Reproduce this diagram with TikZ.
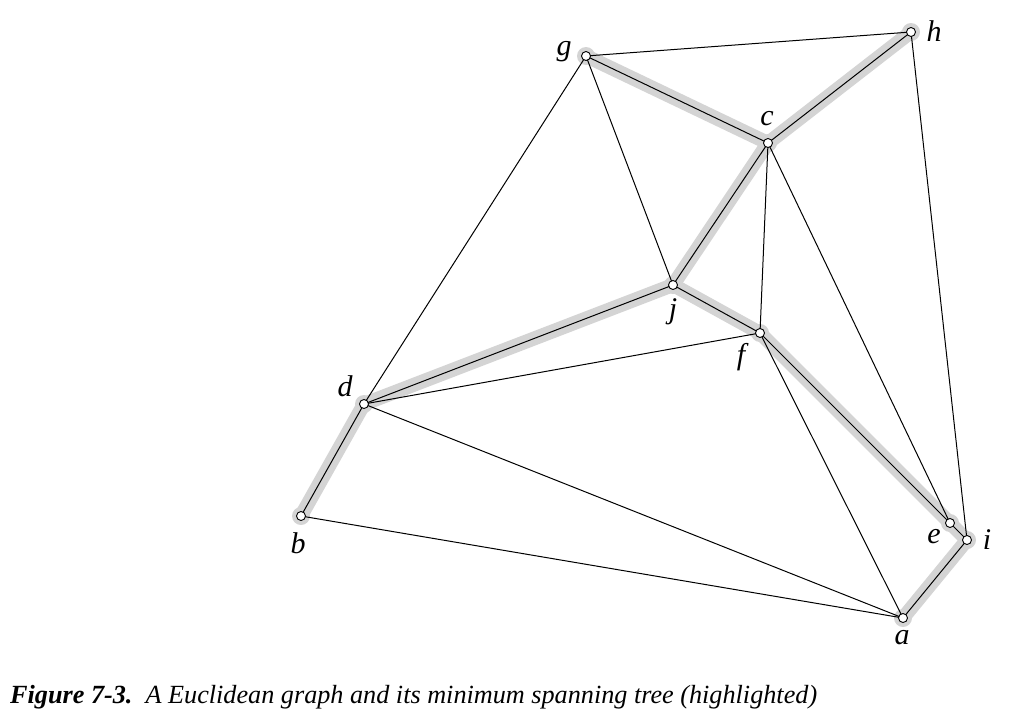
\documentclass[tikz,border=0pt]{standalone}
\usepackage{fontspec}
\setmainfont{Liberation Serif}
\begin{document}
\begin{tikzpicture}[x=1pt,y=-1pt,
  vtx/.style={circle,draw=black,fill=white,inner sep=0pt,minimum size=9pt,line width=0.9pt},
  edge/.style={line width=1pt,black},
  mst/.style={line width=14pt,black!17,line cap=round,line join=round},
  halo/.style={circle,fill=black!17,inner sep=0pt,minimum size=18pt},
  lbl/.style={font=\fontsize{30}{32}\selectfont\itshape,inner sep=0pt}]
\useasboundingbox (0,0) rectangle (1010,723);
\coordinate (g) at (586,56);
\coordinate (h) at (911,32);
\coordinate (c) at (768,143);
\coordinate (j) at (673,285);
\coordinate (f) at (760,333);
\coordinate (d) at (364,404);
\coordinate (b) at (301,516);
\coordinate (e) at (950,523);
\coordinate (i) at (967,540);
\coordinate (a) at (903,618);
% highlighted MST
\foreach \u/\v in {g/c,c/h,c/j,j/d,d/b,j/f,f/e,e/i,i/a}
  \draw[mst] (\u) -- (\v);
\foreach \n in {g,h,c,j,f,d,b,e,i,a}
  \node[halo] (h\n) at (\n) {};
% edges
\foreach \u/\v in {g/h,g/c,g/j,g/d,h/c,h/i,c/j,c/f,c/e,j/d,j/f,d/f,d/b,d/a,b/a,f/a,f/e,e/i,i/a}
  \draw[edge] (\u) -- (\v);
% vertices
\foreach \n in {g,h,c,j,f,d,b,e,i,a}
  \node[vtx] (v\n) at (\n) {};
% labels
\node[lbl] (lg) at (564,52) {g};
\node[lbl] (lh) at (934,31) {h};
\node[lbl] (lc) at (767,119) {c};
\node[lbl] (lj) at (673,312) {j};
\node[lbl] (lf) at (741,357) {f};
\node[lbl] (ld) at (345,386) {d};
\node[lbl] (lb) at (298,543) {b};
\node[lbl] (le) at (934,537) {e};
\node[lbl] (li) at (987,540) {i};
\node[lbl] (la) at (902,638) {a};
% caption
\node[anchor=base west,inner sep=0pt] (cap) at (10,703) {\resizebox{807pt}{!}{\fontsize{26}{28}\selectfont\itshape\textbf{Figure 7-3.}\ \ A Euclidean graph and its minimum spanning tree (highlighted)}};
\end{tikzpicture}
\end{document}
